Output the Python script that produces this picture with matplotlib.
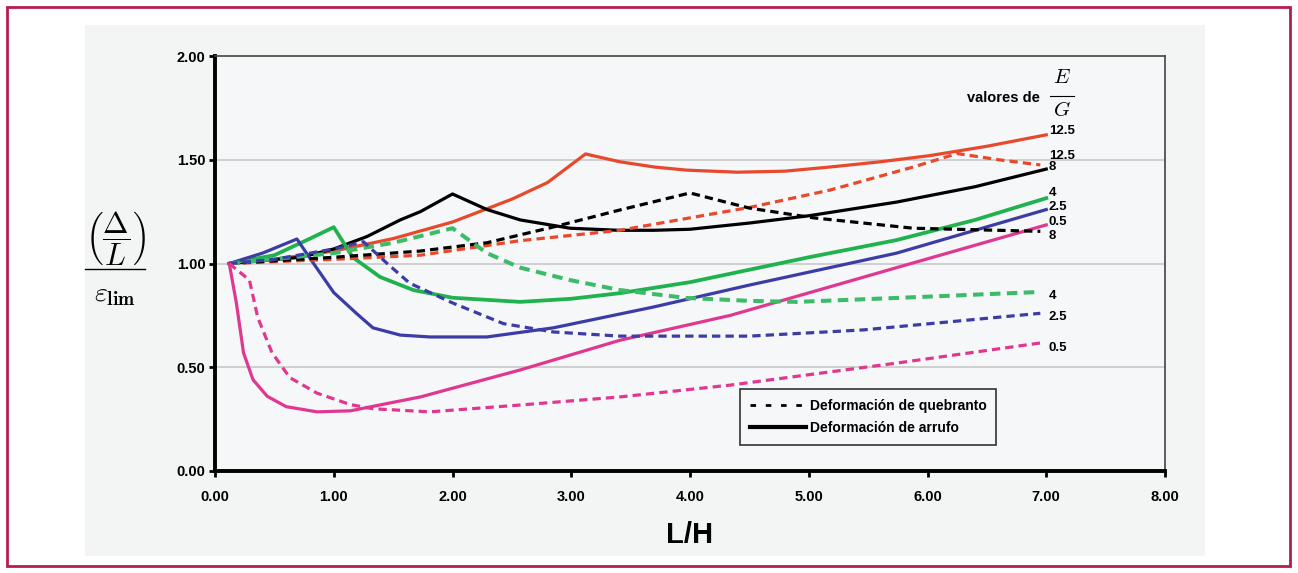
import numpy as np
import matplotlib
matplotlib.use("Agg")
import matplotlib.pyplot as plt
from matplotlib.lines import Line2D
from matplotlib.patches import Rectangle

plt.rcParams['font.family'] = ['Liberation Sans', 'DejaVu Sans']
plt.rcParams['mathtext.fontset'] = 'cm'

# --- data (L/H vs (Delta/L)/eps_lim) ---
# arrufo (solid)
arr_125_x = [0.12, 0.5, 1.0, 1.5, 2.0, 2.5, 2.8, 3.12, 3.41, 3.7, 3.97, 4.4, 4.8, 5.18, 5.6, 6.02, 6.5, 7.0]
arr_125_y = [1.0, 1.02, 1.06, 1.12, 1.2, 1.31, 1.39, 1.528, 1.49, 1.465, 1.45, 1.44, 1.445, 1.465, 1.49, 1.52, 1.565, 1.62]
arr_8_x = [0.12, 0.72, 1.0, 1.28, 1.56, 1.73, 2.0, 2.29, 2.57, 2.99, 3.4, 3.69, 4.0, 4.5, 5.0, 5.74, 6.4, 7.0]
arr_8_y = [1.0, 1.03, 1.07, 1.13, 1.21, 1.25, 1.335, 1.26, 1.21, 1.17, 1.16, 1.16, 1.165, 1.195, 1.23, 1.296, 1.37, 1.455]
arr_4_x = [0.12, 0.5, 0.8, 1.0, 1.16, 1.39, 1.67, 2.0, 2.57, 3.0, 3.41, 4.0, 4.5, 5.0, 5.74, 6.4, 7.0]
arr_4_y = [1.0, 1.04, 1.12, 1.175, 1.03, 0.935, 0.872, 0.835, 0.815, 0.83, 0.857, 0.91, 0.97, 1.03, 1.113, 1.21, 1.315]
arr_25_x = [0.12, 0.4, 0.69, 0.83, 1.0, 1.19, 1.33, 1.56, 1.81, 2.29, 2.85, 3.69, 4.5, 5.74, 7.0]
arr_25_y = [1.0, 1.05, 1.118, 1.0, 0.86, 0.76, 0.69, 0.655, 0.646, 0.646, 0.69, 0.79, 0.896, 1.05, 1.26]
arr_05_x = [0.12, 0.18, 0.24, 0.32, 0.44, 0.6, 0.86, 1.14, 1.73, 2.57, 3.41, 4.34, 5.74, 7.0]
arr_05_y = [1.0, 0.81, 0.57, 0.44, 0.36, 0.31, 0.285, 0.29, 0.357, 0.487, 0.63, 0.75, 0.98, 1.186]

# quebranto (dashed)
que_125_x = [0.12, 1.0, 1.73, 2.57, 3.41, 4.0, 4.5, 5.18, 5.88, 6.25, 6.6, 6.95]
que_125_y = [1.0, 1.02, 1.04, 1.11, 1.16, 1.22, 1.27, 1.354, 1.465, 1.53, 1.50, 1.475]
que_8_x = [0.12, 1.0, 1.73, 2.29, 2.85, 3.41, 4.0, 4.34, 4.5, 5.04, 5.88, 6.95]
que_8_y = [1.0, 1.03, 1.06, 1.10, 1.176, 1.258, 1.34, 1.29, 1.267, 1.22, 1.17, 1.155]
que_4_x = [0.12, 1.0, 1.5, 2.0, 2.29, 2.57, 2.99, 3.41, 3.97, 4.5, 4.9, 5.74, 6.95]
que_4_y = [1.0, 1.05, 1.10, 1.17, 1.05, 0.98, 0.92, 0.872, 0.834, 0.82, 0.815, 0.834, 0.863]
que_25_x = [0.12, 0.5, 1.0, 1.25, 1.45, 1.64, 2.0, 2.43, 2.85, 3.41, 4.5, 5.46, 6.95]
que_25_y = [1.0, 1.02, 1.07, 1.105, 1.0, 0.905, 0.81, 0.71, 0.67, 0.65, 0.65, 0.68, 0.76]
que_05_x = [0.12, 0.29, 0.36, 0.48, 0.63, 0.86, 1.14, 1.33, 1.81, 2.57, 3.41, 4.34, 5.74, 6.95]
que_05_y = [1.0, 0.92, 0.74, 0.57, 0.45, 0.375, 0.32, 0.30, 0.285, 0.318, 0.357, 0.414, 0.52, 0.617]

# end labels (E/G values)
end_labels = ['12.5', '12.5', '8', '4', '2.5', '0.5', '8', '4', '2.5', '0.5']
end_label_y = [1.64, 1.52, 1.465, 1.34, 1.27, 1.20, 1.133, 0.843, 0.742, 0.593]

xticks = [0, 1, 2, 3, 4, 5, 6, 7, 8]
yticks = [0.0, 0.5, 1.0, 1.5, 2.0]

red = '#e8482c'
green = '#1fb24e'
blue = '#3c3ca6'
pink = '#e03791'

fig = plt.figure(figsize=(12.98, 5.73), dpi=100)
W, H = 1298, 573

# outer border and grey panel
fig.add_artist(Rectangle((7 / W, 1 - 566 / H), 1283 / W, 559 / H, transform=fig.transFigure,
                         facecolor='white', edgecolor='#b81c4c', linewidth=2, zorder=-3))
fig.add_artist(Rectangle((85 / W, 1 - 556 / H), 1120 / W, 531 / H, transform=fig.transFigure,
                         facecolor='#f3f5f4', edgecolor='none', zorder=-2))

ax = fig.add_axes([215 / W, 1 - 471 / H, 950 / W, 415 / H])
ax.set_zorder(1)
ax.set_facecolor('#f5f7f8')

lw = 2.3
ax.plot(arr_125_x, arr_125_y, color=red, lw=lw)
ax.plot(arr_8_x, arr_8_y, color='black', lw=lw)
ax.plot(arr_4_x, arr_4_y, color=green, lw=lw + 0.4)
ax.plot(arr_25_x, arr_25_y, color=blue, lw=lw)
ax.plot(arr_05_x, arr_05_y, color=pink, lw=lw)

dash = (0, (2.6, 1.6))
ax.plot(que_125_x, que_125_y, color=red, lw=lw, linestyle=dash)
ax.plot(que_8_x, que_8_y, color='black', lw=lw, linestyle=dash)
ax.plot(que_4_x, que_4_y, color='#3dbb68', lw=lw + 0.6, linestyle=dash)
ax.plot(que_25_x, que_25_y, color=blue, lw=lw, linestyle=dash)
ax.plot(que_05_x, que_05_y, color=pink, lw=lw, linestyle=dash)

for lab, yy in zip(end_labels, end_label_y):
    ax.text(7.02, yy, lab, fontsize=9.5, fontweight='bold', va='center', ha='left')

ax.text(6.95, 1.80, 'valores de', fontsize=10.5, fontweight='bold', va='center', ha='right')
ax.text(7.13, 1.894, r'$E$', fontsize=15, va='center', ha='center')
ax.text(7.13, 1.735, r'$G$', fontsize=15, va='center', ha='center')
ax.plot([7.03, 7.23], [1.807, 1.807], color='black', lw=0.8, clip_on=False)

ax.set_xlim(0, 8)
ax.set_ylim(0, 2)
ax.set_xticks(xticks)
ax.set_xticklabels(['%.2f' % v for v in xticks])
ax.set_yticks(yticks)
ax.set_yticklabels(['%.2f' % v for v in yticks])
for lbl in ax.get_xticklabels() + ax.get_yticklabels():
    lbl.set_fontweight('bold')
ax.tick_params(axis='both', labelsize=10.5, direction='out', length=4, width=2, colors='black')
ax.tick_params(axis='x', pad=10)
ax.tick_params(axis='y', pad=3)

for y in [0.5, 1.0, 1.5]:
    ax.axhline(y, color='#c9c9c9', lw=1.2, zorder=0)

ax.spines['left'].set_linewidth(2.8)
ax.spines['bottom'].set_linewidth(2.8)
ax.spines['top'].set_linewidth(1.2)
ax.spines['right'].set_linewidth(1.2)
ax.spines['top'].set_color('#444444')
ax.spines['right'].set_color('#444444')

handles = [Line2D([], [], color='black', lw=2, linestyle=(0, (2.0, 3.5))),
           Line2D([], [], color='black', lw=3)]
leg = ax.legend(handles, ['Deformación de quebranto', 'Deformación de arrufo'],
                loc='lower left', bbox_to_anchor=(0.553, 0.063), borderaxespad=0,
                fancybox=False, edgecolor='#333333', framealpha=1, facecolor='#f5f7f8',
                prop={'weight': 'bold', 'size': 10}, handlelength=4.0,
                handletextpad=0.3, borderpad=0.7, labelspacing=0.6)
leg.get_frame().set_linewidth(1.2)

ax.set_xlabel('L/H', fontsize=21, fontweight='bold', labelpad=12)

# y label as a stacked fraction
fig.text(115 / W, 1 - 238 / H, r'$\left(\dfrac{\Delta}{L}\right)$', fontsize=22,
         ha='center', va='center')
fig.add_artist(Line2D([85 / W, 145 / W], [1 - 269 / H, 1 - 269 / H], color='black', lw=1))
fig.text(115 / W, 1 - 295 / H, r'$\varepsilon_{\mathbf{lim}}$', fontsize=20,
         ha='center', va='center')

fig.savefig('out.png', dpi=100)
